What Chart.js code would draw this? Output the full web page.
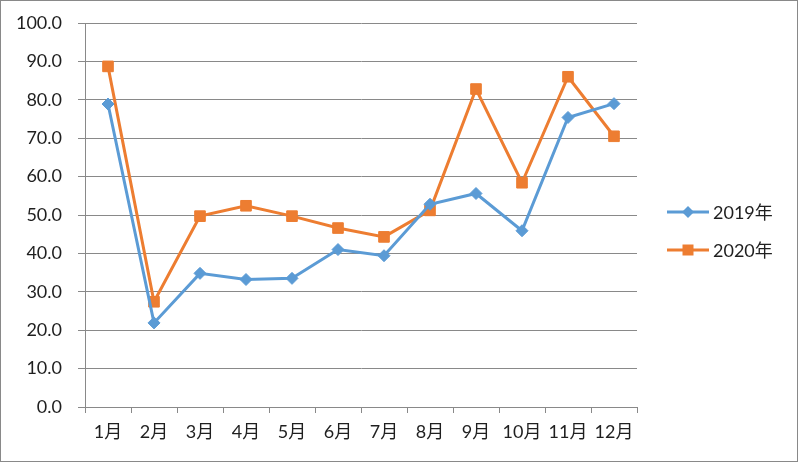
<!DOCTYPE html>
<html lang="zh">
<head>
  <meta charset="UTF-8" />
  <title>2019年 vs 2020年</title>
  <script src="https://cdn.jsdelivr.net/npm/chart.js"></script>
  <style>
    body { margin: 0; background: #fff; }
    #wrap { position: relative; width: 798px; height: 462px; }
    #frame {
      position: absolute; left: 0; top: 0; width: 798px; height: 462px;
      box-sizing: border-box; border: 1px solid #898989; pointer-events: none;
    }
  </style>
</head>
<body>

<div id="wrap">
  <canvas id="chartCanvas" width="798" height="462"></canvas>
  <div id="frame"></div>
</div>

<script>
  const months = ['1月', '2月', '3月', '4月', '5月', '6月', '7月', '8月', '9月', '10月', '11月', '12月'];
  const values2019 = [78.9, 21.9, 34.8, 33.2, 33.5, 41.0, 39.4, 52.8, 55.6, 45.9, 75.4, 79.0];
  const values2020 = [88.7, 27.4, 49.7, 52.4, 49.7, 46.6, 44.3, 51.2, 82.8, 58.4, 86.0, 70.5];
  const seriesNames = ['2019年', '2020年'];

  const FONT = "Lato, 'Noto Sans CJK SC', sans-serif";
  const TEXT = '#1f1f1f';
  const GRID = '#898989';

  // legend on the right: short line with the marker in the middle
  const sideLegend = {
    id: 'sideLegend',
    afterDraw(chart) {
      const c = chart.ctx;
      const x0 = chart.chartArea.right + 30;
      const mid = chart.height / 2;
      const items = chart.data.datasets;
      items.forEach((ds, i) => {
        const y = mid - 19 + i * 38;
        c.save();
        c.strokeStyle = ds.borderColor;
        c.lineWidth = 3;
        c.beginPath();
        c.moveTo(x0, y);
        c.lineTo(x0 + 42, y);
        c.stroke();
        c.fillStyle = ds.backgroundColor;
        c.beginPath();
        if (ds.pointStyle === 'rect') {
          c.rect(x0 + 21 - 5.5, y - 5.5, 11, 11);
        } else {
          c.moveTo(x0 + 21, y - 6);
          c.lineTo(x0 + 27, y);
          c.lineTo(x0 + 21, y + 6);
          c.lineTo(x0 + 15, y);
          c.closePath();
        }
        c.fill();
        c.fillStyle = TEXT;
        c.font = '18px ' + FONT;
        c.textBaseline = 'middle';
        c.fillText(ds.label, x0 + 46, y + 1);
        c.restore();
      });
    }
  };

  const ctx = document.getElementById('chartCanvas').getContext('2d');

  new Chart(ctx, {
    type: 'line',
    data: {
      labels: months,
      datasets: [
        {
          label: seriesNames[0],
          data: values2019,
          borderColor: '#5B9BD5',
          backgroundColor: '#5B9BD5',
          borderWidth: 3,
          pointStyle: 'rectRot',
          pointRadius: 6,
          pointBorderWidth: 1,
          tension: 0
        },
        {
          label: seriesNames[1],
          data: values2020,
          borderColor: '#ED7D31',
          backgroundColor: '#ED7D31',
          borderWidth: 3,
          pointStyle: 'rect',
          pointRadius: 7.5,
          pointBorderWidth: 1,
          tension: 0
        }
      ]
    },
    options: {
      responsive: false,
      animation: false,
      layout: { padding: { top: 23, right: 161, left: 0, bottom: 0 } },
      plugins: {
        legend: { display: false },
        tooltip: { enabled: false }
      },
      scales: {
        x: {
          offset: true,
          grid: {
            offset: true,
            drawOnChartArea: false,
            drawTicks: true,
            tickLength: 6,
            color: GRID
          },
          border: { color: GRID, width: 1 },
          ticks: {
            color: TEXT,
            font: { family: FONT, size: 18 },
            padding: 8,
            maxRotation: 0,
            autoSkip: false
          },
          afterFit(scale) { scale.height = 55; }
        },
        y: {
          min: 0,
          max: 100,
          grid: { color: GRID, tickLength: 7 },
          border: { color: GRID, width: 1 },
          ticks: {
            stepSize: 10,
            color: TEXT,
            font: { family: FONT, size: 18 },
            padding: 16,
            callback: v => v.toFixed(1)
          },
          afterFit(scale) {
            scale.width = 85;
            scale.paddingTop = 0;
            scale.paddingBottom = 0;
          }
        }
      }
    },
    plugins: [sideLegend]
  });
</script>

</body>
</html>
